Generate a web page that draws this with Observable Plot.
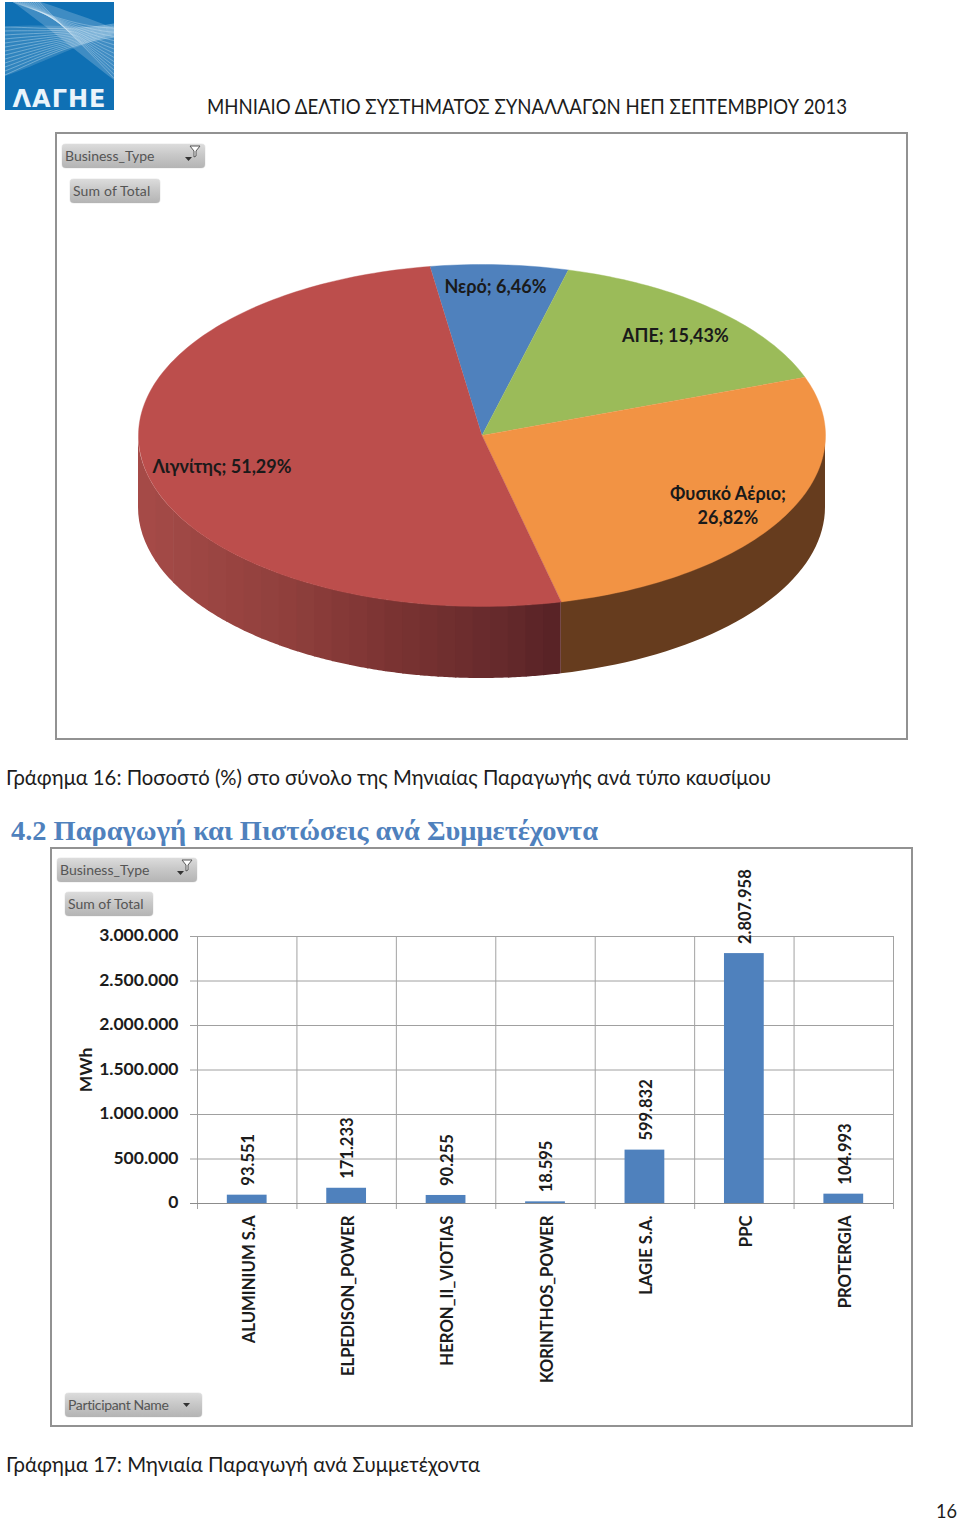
<!DOCTYPE html>
<html lang="el">
<head>
<meta charset="utf-8">
<script src="https://cdn.jsdelivr.net/npm/d3@7"></script>
<script src="https://cdn.jsdelivr.net/npm/@observablehq/plot@0.6"></script>
<style>
html,body{margin:0;padding:0;background:#fff}
#page{position:relative;width:960px;height:1519px;font-family:Lato,"Open Sans",sans-serif;color:#1c1c1c}
.t{position:absolute;white-space:nowrap;line-height:1;transform-origin:0 50%}
.box{position:absolute;box-sizing:border-box;border:2px solid #929292}
.btn{position:absolute;box-sizing:border-box;border-radius:4px;background:linear-gradient(#dcdcdc,#c8c8c8 45%,#b4b4b4);color:#555;font-size:14px;line-height:24px;padding-left:3px;white-space:nowrap;box-shadow:0 0 1px #999}
.btn svg{position:absolute;top:0;right:0}
#page>svg{position:absolute;overflow:visible}
</style>
</head>
<body>
<div id="page"></div>
<script>
// ---- Chart 16 data
const fuelNames = ["Νερό", "ΑΠΕ", "Φυσικό Αέριο", "Λιγνίτης"];
const fuelShares = [6.46, 15.43, 26.82, 51.29];
const fuelColors = ["#4f81bd", "#9bbb59", "#f29344", "#bc4e4c"];
const fuelLabelBreaks = [" ", " ", "\n", " "];
// ---- Chart 17 data
const participants = ["ALUMINIUM S.A", "ELPEDISON_POWER", "HERON_II_VIOTIAS", "KORINTHOS_POWER", "LAGIE S.A.", "PPC", "PROTERGIA"];
const production = [93551, 171233, 90255, 18595, 599832, 2807958, 104993];
const yTicks = [0, 500000, 1000000, 1500000, 2000000, 2500000, 3000000];
// ---- Texts
const pageTitle = "ΜΗΝΙΑΙΟ ΔΕΛΤΙΟ ΣΥΣΤΗΜΑΤΟΣ ΣΥΝΑΛΛΑΓΩΝ ΗΕΠ ΣΕΠΤΕΜΒΡΙΟΥ 2013";
const caption16 = "Γράφημα 16: Ποσοστό (%) στο σύνολο της Μηνιαίας Παραγωγής ανά τύπο καυσίμου";
const heading42 = "4.2 Παραγωγή και Πιστώσεις ανά Συμμετέχοντα";
const caption17 = "Γράφημα 17: Μηνιαία Παραγωγή ανά Συμμετέχοντα";

const page = document.getElementById("page");
const grLocale = d3.formatLocale({decimal: ",", thousands: ".", grouping: [3], currency: ["", ""]});
const fmtInt = grLocale.format(",d");
const fmtPct = grLocale.format(".2f");

function addText(txt, left, top, size, fitWidth, extra = "") {
  const el = document.createElement("div");
  el.className = "t";
  el.textContent = txt;
  el.style.cssText = `left:${left}px;top:${top}px;font-size:${size}px;${extra}`;
  page.appendChild(el);
  const w = el.getBoundingClientRect().width;
  if (fitWidth && w) el.style.transform = `scaleX(${fitWidth / w})`;
  return el;
}
function addBox(left, top, w, h) {
  const el = document.createElement("div");
  el.className = "box";
  el.style.cssText = `left:${left}px;top:${top}px;width:${w}px;height:${h}px`;
  page.appendChild(el);
}
function addButton(txt, left, top, w, icon, spacing = 0) {
  const el = document.createElement("div");
  el.className = "btn";
  el.style.cssText = `left:${left}px;top:${top}px;width:${w}px;height:24px;letter-spacing:${spacing}px`;
  el.textContent = txt;
  const arrow = `<path d="M0 0h7l-3.5 4z" fill="#333"/>`;
  const glyph = icon === "filter"
    ? `<svg width="24" height="24"><g transform="translate(4,13)">${arrow}</g><path d="M9 2h10l-4 5v5l-2 1v-6z" fill="#fff" stroke="#555" stroke-width="1"/></svg>`
    : icon === "drop"
    ? `<svg width="24" height="24"><g transform="translate(5,10)">${arrow}</g></svg>` : "";
  el.insertAdjacentHTML("beforeend", glyph);
  page.appendChild(el);
}

// ---- Logo
(function logo() {
  const s = d3.create("svg").attr("width", 109).attr("height", 108).style("left", "5px").style("top", "2px");
  s.append("rect").attr("width", 109).attr("height", 108).attr("fill", "#0f70b4");
  s.append("path").attr("fill", "#ffffff").attr("fill-opacity", 0.2)
    .attr("d", "M8 0 L36 0 C60 8 88 18 109 26 L109 78 C88 62 46 28 8 0Z");
  s.append("path").attr("fill", "#ffffff").attr("fill-opacity", 0.14)
    .attr("d", "M0 25 C36 21 74 26 109 24 L109 32 C74 42 30 64 0 74Z");
  const lines = s.append("g").attr("fill", "none").attr("stroke", "#dff0fa").attr("stroke-width", 0.6);
  for (let i = 0; i < 13; i++) {
    lines.append("path").attr("stroke-opacity", 0.55)
      .attr("d", `M${8 + i * 2.2} 0 C${40 + i} ${12 + i * 0.6} ${78 + i} ${26 + i * 2.4} 109 ${26 + i * 4.2}`);
    lines.append("path").attr("stroke-opacity", 0.6)
      .attr("d", `M0 ${25 + i * 4} C28 ${25 + i * 3} 64 ${30 + i * 0.9} 109 ${22 + i * 1.1}`);
  }
  s.append("text").attr("x", 54.5).attr("y", 105).attr("text-anchor", "middle").attr("fill", "#eaf4fb")
    .attr("font-family", "DejaVu Sans").attr("font-weight", 700).attr("font-size", 24)
    .attr("letter-spacing", 1).text("ΛΑΓΗΕ");
  page.appendChild(s.node());
})();

addText(pageTitle, 207, 96, 20.5, 640);
addBox(55, 132, 853, 608);
addButton("Business_Type", 62, 144, 143, "filter");
addButton("Sum of Total", 70, 179, 90, null, 0.15);
addText(caption16, 6, 766, 21, 765);
addText(heading42, 11, 817, 28, 587, 'font-family:"Liberation Serif",serif;font-weight:700;color:#4f81bd');
addBox(50, 847, 863, 580);
addButton("Business_Type", 57, 858, 140, "filter");
addButton("Sum of Total", 65, 892, 88);
addButton("Participant Name", 65, 1393, 137, "drop", -0.35);
addText(caption17, 6, 1453, 21, 474);
addText("16", 936, 1500, 20, 21);

// ---- Pie geometry derived from the shares
const deg = Math.PI / 180;
const pieArcs = d3.pie().sort(null).startAngle(-8.7 * deg).endAngle(351.3 * deg)(fuelShares);
const pieDepth = 0.421;
const arcStep = 1.2 * deg;
const sliceRows = pieArcs.flatMap((a, i) => {
  const n = Math.ceil((a.endAngle - a.startAngle) / arcStep);
  const rows = [{i, c: fuelColors[i], x: 0, y: 0}];
  for (let k = 0; k <= n; k++) {
    const t = a.startAngle + (a.endAngle - a.startAngle) * k / n;
    rows.push({i, c: fuelColors[i], x: Math.sin(t), y: Math.cos(t)});
  }
  return rows;
});
const redArc = pieArcs[3], orangeArc = pieArcs[2];
const wallRows = [];
// orange wall, flat tone
{
  const a0 = 90 * deg, a1 = orangeArc.endAngle;
  for (let k = 0; k <= 40; k++) {
    const t = a0 + (a1 - a0) * k / 40;
    wallRows.push({s: "o", c: "#663c1e", x: Math.sin(t), y1: Math.cos(t), y2: Math.cos(t) - pieDepth});
  }
}
// red wall: vertical bands of equal width, lightening towards the left edge
{
  const xEnd = Math.sin(redArc.startAngle), bands = 24;
  const shade = d3.scaleLinear().domain([-1, -0.55, -0.25, 0.05, xEnd]).range(["#a64b48", "#8f3f3c", "#7a3332", "#662a2c", "#572225"]);
  for (let b = bands - 1; b >= 0; b--) {
    const xa = xEnd + (-1 - xEnd) * b / bands;
    const xb = xEnd + (-1 - xEnd) * (b + 1) / bands;
    const ta = Math.PI - Math.asin(xa) - (b === 0 ? 0 : 0.004);
    const tb = Math.PI - Math.asin(xb);
    const c = shade((xa + xb) / 2);
    for (let k = 0; k <= 8; k++) {
      const t = ta + (tb - ta) * k / 8;
      wallRows.push({s: "r" + b, c, x: Math.sin(t), y1: Math.cos(t), y2: Math.cos(t) - pieDepth});
    }
  }
}
const labelAt = [[0.039, 0.877], [0.563, 0.59], [0.716, -0.404], [-0.757, -0.175]];
const labelRows = fuelNames.map((n, i) => ({
  text: `${n};${fuelLabelBreaks[i]}${fmtPct(fuelShares[i])}%`,
  x: labelAt[i][0], y: labelAt[i][1]
}));

const pie = Plot.plot({
  width: 853, height: 608, margin: 0,
  style: {background: "transparent", fontFamily: "Lato, 'Open Sans', sans-serif", overflow: "visible"},
  x: {domain: [-1, 1], range: [83, 770], axis: null},
  y: {domain: [-1, 1], range: [474, 132], axis: null},
  color: {type: "identity"},
  marks: [
    Plot.areaY(wallRows, {x: "x", y1: "y1", y2: "y2", z: "s", fill: "c"}),
    Plot.line(sliceRows, {x: "x", y: "y", z: "i", fill: "c", stroke: "c", strokeWidth: 0.4}),
    Plot.text(labelRows, {x: "x", y: "y", text: "text", fontSize: 18, fontWeight: 700, fill: "#1a1a1a", lineHeight: 1.3})
  ]
});
pie.style.left = "55px"; pie.style.top = "132px";
page.appendChild(pie);

// ---- Bar chart
const bandStep = (893 - 197) / participants.length;
const barRows = participants.map((name, i) => ({name, value: production[i]}));
const bars = Plot.plot({
  width: 863, height: 579,
  marginTop: 89, marginBottom: 223, marginLeft: 140, marginRight: 20,
  style: {background: "transparent", fontFamily: "Lato, 'Open Sans', sans-serif", overflow: "visible"},
  x: {domain: participants, range: [147, 843], paddingInner: 0.6, paddingOuter: 0.3, round: false, axis: null},
  y: {domain: [0, 3000000]},
  marks: [
    Plot.ruleY(yTicks, {stroke: "#a0a0a0", strokeWidth: 1}),
    Plot.ruleX(participants, {x: d => d, dx: -bandStep / 2, stroke: "#a2a2a2", insetBottom: -6}),
    Plot.ruleX(participants.slice(-1), {x: d => d, dx: bandStep / 2, stroke: "#a2a2a2", insetBottom: -6}),
    Plot.ruleY([0], {stroke: "#8c8c8c"}),
    Plot.barY(barRows, {x: "name", y: "value", fill: "#4f81bd"}),
    Plot.axisY(yTicks, {tickSize: 0, tickPadding: 12, dy: -1, tickFormat: fmtInt, fontSize: 17.5, fontWeight: 700, fill: "#1c1c1c",
      label: "MWh", labelAnchor: "center", labelArrow: "none", labelOffset: 111}),
    Plot.text(barRows, {x: "name", y: "value", text: d => fmtInt(d.value), rotate: -90, textAnchor: "start",
      dy: -9.5, dx: 1.5, fontSize: 16.5, fontWeight: 700, fill: "#1c1c1c"}),
    Plot.text(participants, {x: d => d, y: () => 0, text: d => d, rotate: -90, textAnchor: "end",
      dy: 12, dx: 2, fontSize: 16.7, fontWeight: 700, fill: "#1c1c1c"})
  ]
});
bars.style.left = "50px"; bars.style.top = "847px";
page.appendChild(bars);
</script>
</body>
</html>
